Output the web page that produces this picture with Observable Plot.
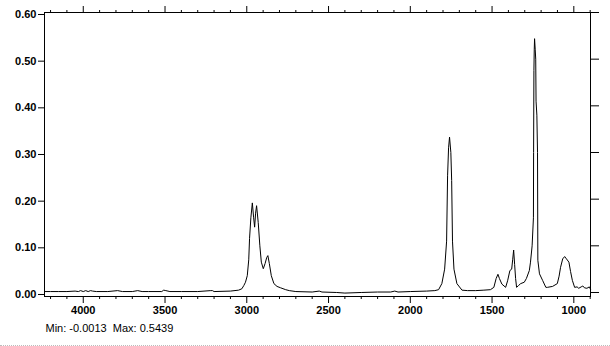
<!DOCTYPE html>
<html>
<head>
<meta charset="utf-8">
<script src="https://cdn.jsdelivr.net/npm/d3@7"></script>
<script src="https://cdn.jsdelivr.net/npm/@observablehq/plot@0.6"></script>
<style>
  html, body { margin: 0; padding: 0; background: #fff; }
  #chart svg { display: block; white-space: pre; }
  #edge { height: 0; border-top: 1px dotted #bdbdbd; width: 610px; }
</style>
</head>
<body>
<div id="chart"></div>
<div id="edge"></div>
<script>
// Wavenumber (cm-1), decreasing
const wavenumber = [
  4237, 4200, 4150, 4100, 4050, 4030, 4016, 4000, 3985, 3970, 3955, 3943, 3920, 3850,
  3790, 3760, 3700, 3667, 3640, 3600, 3520, 3508, 3495, 3470, 3400, 3300, 3220, 3210,
  3200, 3100, 3050, 3030, 3018, 3008, 2997, 2988, 2983, 2975, 2966, 2958, 2952, 2946,
  2940, 2930, 2920, 2911, 2899, 2888, 2878, 2871, 2862, 2850, 2834, 2815, 2793, 2762,
  2740, 2700, 2600, 2557, 2540, 2450, 2400, 2300, 2200, 2120, 2095, 2075, 2000, 1900,
  1850, 1827, 1807, 1790, 1778, 1772, 1766, 1760, 1752, 1747, 1742, 1733, 1715, 1684,
  1650, 1600, 1550, 1510, 1489, 1475, 1464, 1455, 1440, 1417, 1405, 1391, 1380, 1374,
  1368, 1362, 1356, 1350, 1338, 1325, 1303, 1290, 1272, 1265, 1255, 1247, 1246, 1244,
  1242, 1240, 1236, 1233, 1231, 1226, 1222, 1220, 1210, 1191, 1171, 1162, 1130, 1101,
  1090, 1081, 1068, 1056, 1045, 1030, 1020, 1009, 995, 980, 970, 955, 945, 935,
  920, 905, 898
];
// Absorbance
const absorbance = [
  0.002, 0.002, 0.002, 0.002, 0.003, 0.002, 0.004, 0.002, 0.004, 0.002, 0.004, 0.003, 0.002, 0.002,
  0.004, 0.002, 0.002, 0.004, 0.002, 0.002, 0.002, 0.005, 0.004, 0.002, 0.002, 0.002, 0.004, 0.004,
  0.002, 0.003, 0.005, 0.008, 0.015, 0.022, 0.036, 0.070, 0.116, 0.160, 0.192, 0.160, 0.140, 0.170,
  0.186, 0.150, 0.100, 0.065, 0.051, 0.062, 0.075, 0.079, 0.062, 0.036, 0.019, 0.013, 0.010, 0.006,
  0.004, 0.002, 0.001, 0.003, 0.001, 0.000, -0.0013, 0.000, 0.001, 0.001, 0.003, 0.001, 0.002, 0.003,
  0.004, 0.006, 0.019, 0.050, 0.110, 0.250, 0.310, 0.333, 0.300, 0.240, 0.110, 0.050, 0.019, 0.005,
  0.004, 0.004, 0.005, 0.006, 0.011, 0.030, 0.039, 0.030, 0.018, 0.011, 0.025, 0.047, 0.050, 0.070,
  0.091, 0.060, 0.030, 0.011, 0.015, 0.019, 0.022, 0.030, 0.047, 0.065, 0.100, 0.160, 0.300, 0.476,
  0.520, 0.5439, 0.520, 0.500, 0.410, 0.380, 0.300, 0.069, 0.040, 0.026, 0.011, 0.011, 0.013, 0.019,
  0.035, 0.054, 0.072, 0.077, 0.072, 0.065, 0.045, 0.026, 0.011, 0.012, 0.009, 0.012, 0.014, 0.010,
  0.009, 0.012, 0.007
];
const xMajorTicks = [4000, 3500, 3000, 2500, 2000, 1500, 1000];
const xMinorTicks = [4200, 4100, 3900, 3800, 3700, 3600, 3400, 3300, 3200, 3100, 2900, 2800, 2700,
  2600, 2400, 2300, 2200, 2100, 1900, 1800, 1700, 1600, 1400, 1300, 1200, 1100, 900];
const yTicks = [0, 0.1, 0.2, 0.3, 0.4, 0.5, 0.6];
const xDomain = [4237, 898];
const yDomain = [-0.0086, 0.6];

const data = wavenumber.map((w, i) => ({w, a: absorbance[i]}));
const locale = d3.formatLocale({decimal: ".", thousands: "", grouping: [3], currency: ["", ""], minus: "-"});
const fmt4 = locale.format(".4f");
const captionText = `Min: ${fmt4(d3.min(absorbance))}  Max: ${fmt4(d3.max(absorbance))}`;
const noLabel = () => "";

const chart = Plot.plot({
  width: 610,
  height: 345,
  marginLeft: 44,
  marginRight: 20,
  marginTop: 12,
  marginBottom: 49,
  style: {fontFamily: "'Liberation Sans', Arial, sans-serif", fontSize: "11px", fontWeight: "bold", color: "black", background: "white"},
  x: {domain: xDomain, axis: null},
  y: {domain: yDomain, axis: null},
  marks: [
    Plot.axisX({anchor: "bottom", ticks: xMinorTicks, tickSize: 3, tickFormat: noLabel, label: null}),
    Plot.axisX({anchor: "bottom", ticks: xMajorTicks, tickSize: 7, tickPadding: 3, tickFormat: d => String(d), label: null}),
    Plot.axisX({anchor: "top", ticks: xMinorTicks, tickSize: 3, tickFormat: noLabel, label: null}),
    Plot.axisX({anchor: "top", ticks: xMajorTicks, tickSize: 7, tickFormat: noLabel, label: null}),
    Plot.axisY({anchor: "left", ticks: yTicks, tickSize: 6, tickPadding: 2, dy: 2, tickFormat: locale.format(".2f"), label: null}),
    Plot.axisY({anchor: "right", ticks: yTicks, tickSize: 8, tickFormat: noLabel, label: null}),
    Plot.line(data, {x: "w", y: "a", stroke: "black", strokeWidth: 1}),
    Plot.frame({stroke: "black"}),
    Plot.text([captionText], {frameAnchor: "bottom-left", dx: 1, dy: 35, textAnchor: "start", fontWeight: "normal", fill: "black"})
  ]
});
document.getElementById("chart").appendChild(chart);
</script>
</body>
</html>
